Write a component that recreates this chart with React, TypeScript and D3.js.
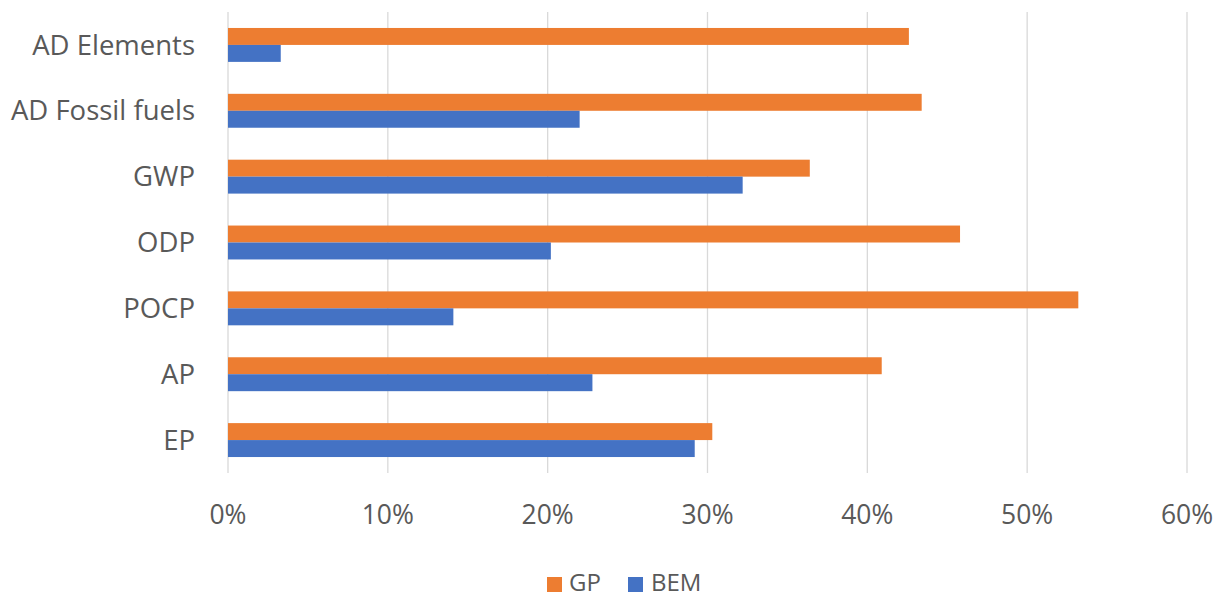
import React from "react";
import * as d3 from "d3";

const categories = ["AD Elements", "AD Fossil fuels", "GWP", "ODP", "POCP", "AP", "EP"];
const seriesNames = ["GP", "BEM"];
const gpValues = [0.426, 0.434, 0.364, 0.458, 0.532, 0.409, 0.303];
const bemValues = [0.033, 0.22, 0.322, 0.202, 0.141, 0.228, 0.292];
const xTicks = [0, 0.1, 0.2, 0.3, 0.4, 0.5, 0.6];
const colors = ["#ED7D31", "#4472C4"];

const W = 1226;
const H = 599;
const FONT = "'Open Sans', sans-serif";
const TEXT = "#595959";

export default function App() {
  const x = d3.scaleLinear().domain([0, 0.6]).range([228, 1187]);
  const y = d3.scaleBand().domain(categories).range([12, 473]).paddingInner(0.485).paddingOuter(0.2425);
  const sub = d3.scaleBand().domain(seriesNames).range([0, y.bandwidth()]);
  const series = [gpValues, bemValues];
  const fmt = d3.format(".0%");

  return (
    <div style={{ position: "absolute", left: 0, top: 0 }}>
      <svg width={W} height={H} style={{ display: "block", background: "#fff" }}>
        {xTicks.map((t) => (
          <line key={t} x1={x(t)} x2={x(t)} y1={12} y2={473} stroke="#d9d9d9" strokeWidth={1.3} />
        ))}
        {categories.map((c, i) =>
          seriesNames.map((s, j) => (
            <rect
              key={c + s}
              x={x(0)}
              y={(y(c) as number) + (sub(s) as number)}
              width={x(series[j][i]) - x(0)}
              height={sub.bandwidth()}
              fill={colors[j]}
            />
          ))
        )}
        {categories.map((c) => (
          <text
            key={c}
            x={195}
            y={(y(c) as number) + y.bandwidth() / 2}
            dy="0.35em"
            textAnchor="end"
            fontFamily={FONT}
            fontSize={27.5}
            fill={TEXT}
          >
            {c}
          </text>
        ))}
        {xTicks.map((t) => (
          <text
            key={"l" + t}
            x={x(t)}
            y={524}
            textAnchor="middle"
            fontFamily={FONT}
            fontSize={26.5}
            fill={TEXT}
          >
            {fmt(t)}
          </text>
        ))}
        <g>
          <rect x={547} y={577} width={15} height={15} fill={colors[0]} />
          <text x={569} y={591} fontFamily={FONT} fontSize={24} fill={TEXT}>{seriesNames[0]}</text>
          <rect x={628} y={577} width={15} height={15} fill={colors[1]} />
          <text x={651} y={591} fontFamily={FONT} fontSize={24} fill={TEXT}>{seriesNames[1]}</text>
        </g>
      </svg>
    </div>
  );
}
